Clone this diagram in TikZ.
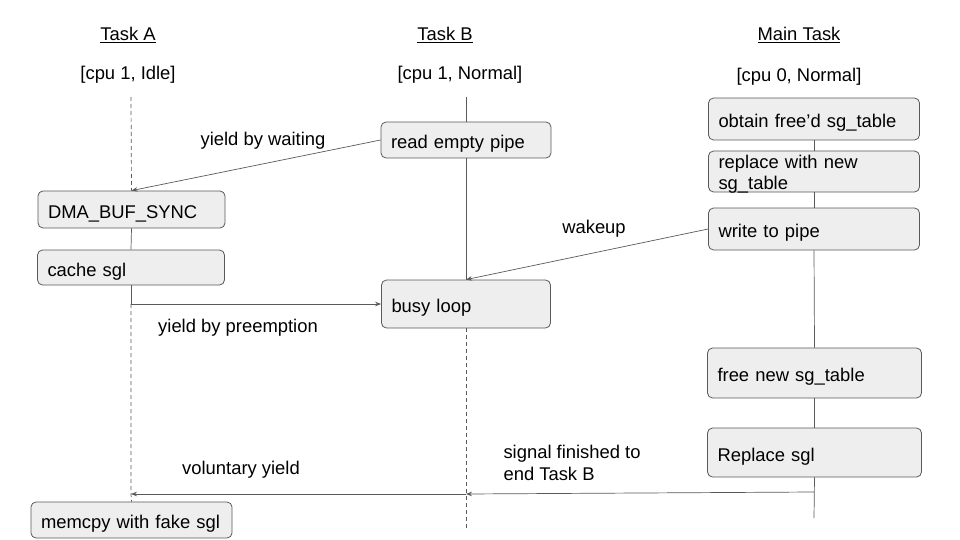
\documentclass[tikz,border=0pt]{standalone}
\usepackage{fontspec}
\setmainfont{Liberation Sans}
\usetikzlibrary{arrows.meta}

\definecolor{linegray}{HTML}{595959}
\definecolor{boxfill}{HTML}{EEEEEE}

\tikzset{
    taskbox/.style={draw=linegray, fill=boxfill, rounded corners=5pt, line width=0.8pt,
        align=left, inner xsep=10pt, inner ysep=2pt, text width=#1,
        text height=21pt, text depth=4pt},
    lifeline/.style={draw=linegray, line width=0.7pt},
    idleline/.style={lifeline, dash pattern=on 4pt off 3pt},
    msg/.style={lifeline, -{Stealth[length=6pt, width=4.5pt]}},
}

\begin{document}
\begin{tikzpicture}[x=1pt, y=-1pt, font=\fontsize{18.4}{22}\selectfont]
    \useasboundingbox (0,0) rectangle (960,540);

    % Column heads
    \node (heada) at (128,35) {\underline{Task A}};
    \node (headb) at (445,35) {\underline{Task B}};
    \node (headm) at (799,35) {\underline{Main Task}};
    \node (cpua) at (128,75) {[cpu 1, Idle]};
    \node (cpub) at (460,75) {[cpu 1, Normal]};
    \node (cpum) at (799,77) {[cpu 0, Normal]};

    % Task A steps
    \node[taskbox=167pt, minimum height=37pt] (dma) at (131.5,209.5) {DMA\_BUF\_SYNC};
    \node[taskbox=167pt, minimum height=35pt] (cache) at (131,267.5) {cache sgl};
    \node[taskbox=181pt, minimum height=36pt] (memcpy) at (131.5,520) {memcpy with fake sgl};

    % Task B steps
    \node[taskbox=150pt, minimum height=36pt] (pipe) at (466,140) {read empty pipe};
    \node[taskbox=149pt, minimum height=48pt] (busy) at (466,304) {busy loop};

    % Main task steps
    \node[taskbox=191pt, minimum height=42pt] (obtain) at (814,119) {obtain free’d sg\_table};
    \node[taskbox=191pt, minimum height=41pt, inner ysep=0pt, text height=15pt, text depth=22pt,
        font=\fontsize{18.4}{21.5}\selectfont] (replace) at (814,171.5) {replace with new\\sg\_table};
    \node[taskbox=191pt, minimum height=42pt] (write) at (814,229) {write to pipe};
    \node[taskbox=194pt, minimum height=50pt] (free) at (814.5,373) {free new sg\_table};
    \node[taskbox=194pt, minimum height=49pt] (rsgl) at (814.5,452.5) {Replace sgl};

    % Ends of the lifelines
    \coordinate (atop) at (131,97);
    \coordinate (apre) at (cache.south |- busy.west);
    \coordinate (avol) at (131,494);
    \coordinate (btop) at (466,97);
    \coordinate (bvol) at (466,494);
    \coordinate (bend) at (466,528);
    \coordinate (msig) at (814,492);
    \coordinate (mend) at (814,518);

    % Lifelines
    \draw[idleline] (atop) -- (dma.north);
    \draw[lifeline] (dma.south) -- (cache.north);
    \draw[lifeline] (cache.south) -- (apre);
    \draw[idleline] (apre) -- (avol) -- (memcpy.north);

    \draw[lifeline] (btop) -- (pipe.north);
    \draw[lifeline] (pipe.south) -- (busy.north);
    \draw[idleline] (busy.south) -- (bend);

    \draw[lifeline] (obtain.south) -- (replace.north);
    \draw[lifeline] (replace.south) -- (write.north);
    \draw[lifeline] (write.south) -- (free.north);
    \draw[lifeline] (free.south) -- (rsgl.north);
    \draw[lifeline] (rsgl.south) -- (mend);

    % Switches between tasks
    \draw[msg] (pipe.west) -- (dma.north);
    \node (waitlbl) at (263,141) {yield by waiting};

    \draw[msg] (write.west) -- (busy.north);
    \node (wakelbl) at (594,229) {wakeup};

    \draw[msg] (apre) -- (busy.west);
    \node (prelbl) at (238,328) {yield by preemption};

    \draw[msg] (msig) -- (bvol);
    \node[anchor=west, align=left] (siglbl) at (500,463) {signal finished to\\end Task B};

    \draw[msg] (bvol) -- (avol);
    \node (vollbl) at (241,470) {voluntary yield};

\end{tikzpicture}
\end{document}
